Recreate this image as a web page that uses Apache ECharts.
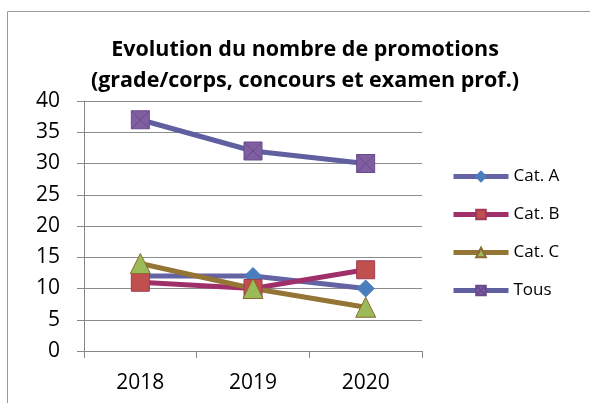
<!DOCTYPE html>
<html lang="fr">
<head>
  <meta charset="UTF-8">
  <title>Evolution du nombre de promotions</title>
  <script src="https://cdn.jsdelivr.net/npm/echarts@6/dist/echarts.min.js"></script>
  <style>
    html, body { margin: 0; padding: 0; background: #fff; }
    #main { width: 590px; height: 403px; }
  </style>
</head>
<body>
<div id="main"></div>
<script>
  var years = ['2018', '2019', '2020'];
  var catA = [12, 12, 10];
  var catB = [11, 10, 13];
  var catC = [14, 10, 7];
  var tous = [37, 32, 30];

  var font = '"Open Sans", "Noto Sans", sans-serif';
  var squareX = 'path://M0,0H10V10H0Z M0,0L10,10 M10,0L0,10';

  var myChart = echarts.init(document.getElementById('main'));

  function line(name, data, lineColor, symbol, size, fill, border) {
    return {
      name: name,
      type: 'line',
      data: data,
      symbol: symbol,
      symbolSize: size,
      showAllSymbol: true,
      lineStyle: { color: lineColor, width: 5 },
      itemStyle: { color: fill, borderColor: border, borderWidth: 1 },
      emphasis: { disabled: true },
      animation: false
    };
  }

  var option = {
    backgroundColor: '#fff',
    title: {
      text: 'Evolution du nombre de promotions\n(grade/corps, concours et examen prof.)',
      left: 300,
      top: 29,
      textAlign: 'center',
      textStyle: {
        fontFamily: font,
        fontWeight: 'bold',
        fontSize: 21.5,
        lineHeight: 31,
        color: '#000'
      }
    },
    graphic: [{
      type: 'rect',
      shape: { x: 7.5, y: 11.5, width: 600, height: 420 },
      style: { fill: 'none', stroke: '#9a9a9a', lineWidth: 1 },
      silent: true
    }],
    legend: {
      orient: 'vertical',
      left: 451,
      top: 168,
      padding: 0,
      itemWidth: 55,
      itemHeight: 12,
      itemGap: 21,
      lineStyle: { width: 5 },
      textStyle: { fontFamily: font, fontSize: 17, color: '#000' },
      data: ['Cat. A', 'Cat. B', 'Cat. C', 'Tous']
    },
    grid: { left: 84, right: 168, top: 101, bottom: 52 },
    xAxis: {
      type: 'category',
      data: years,
      boundaryGap: true,
      axisLine: { lineStyle: { color: '#888', width: 1 } },
      axisTick: { show: true, length: 7, lineStyle: { color: '#888' } },
      axisLabel: { margin: 22, fontFamily: font, fontSize: 21, color: '#000' }
    },
    yAxis: {
      type: 'value',
      min: 0,
      max: 40,
      interval: 5,
      axisLine: { show: true, lineStyle: { color: '#888', width: 1 } },
      axisTick: { show: true, length: 7, lineStyle: { color: '#888' } },
      axisLabel: { margin: 24, fontFamily: font, fontSize: 21, color: '#000' },
      splitLine: { lineStyle: { color: '#8c8c8c', width: 1 } }
    },
    series: [
      line('Cat. A', catA, '#6464a4', 'diamond', 17, '#4a7dbd', '#4a7dbd'),
      line('Cat. B', catB, '#a0306a', 'rect', 18, '#c0504d', '#a03a55'),
      line('Cat. C', catC, '#957535', 'triangle', 20, '#9bbb59', '#8a6a30'),
      line('Tous', tous, '#6060a0', squareX, 18, '#7f5fa0', '#6a4a8e')
    ]
  };
  myChart.setOption(option);
</script>
</body>
</html>
